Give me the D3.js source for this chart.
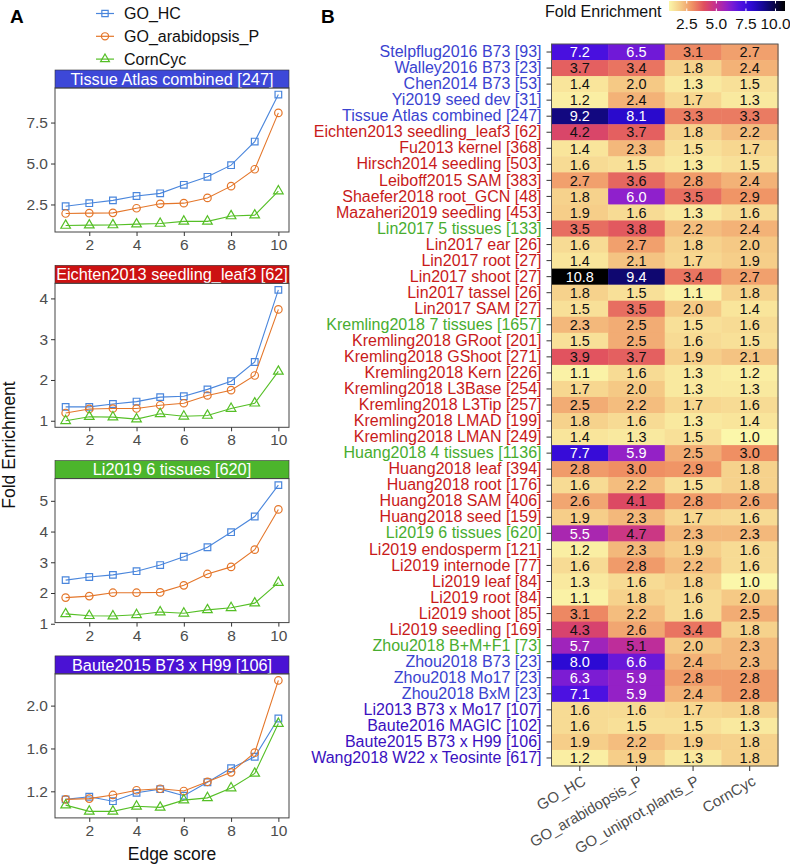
<!DOCTYPE html>
<html><head><meta charset="utf-8">
<script src="https://cdn.jsdelivr.net/npm/d3@7"></script>
<style>
body{margin:0;background:#fff;}
text{font-family:"Liberation Sans",Arial,sans-serif;}
</style></head><body>
<svg id="chart" width="790" height="866"></svg>
<script>
// ---------------- DATA ----------------
const edgeScores = [1,2,3,4,5,6,7,8,9,10];
const lineSeries = ["GO_HC","GO_arabidopsis_P","CornCyc"];
const facetTitles = ["Tissue Atlas combined [247]","Eichten2013 seedling_leaf3 [62]","Li2019 6 tissues [620]","Baute2015 B73 x H99 [106]"];
const facetGroups = ["blue","red","green","indigo"];
const facetTicks = [[2.5,5.0,7.5],[1,2,3,4],[1,2,3,4,5],[1.2,1.6,2.0]];
const tickFormats = [".1f","d","d",".1f"];
// values per facet: [GO_HC, GO_arabidopsis_P, CornCyc]
const tissueAtlas = [
  [2.39,2.58,2.75,3.02,3.18,3.70,4.19,4.90,6.34,9.21],
  [1.95,1.97,1.99,2.27,2.54,2.58,2.90,3.62,4.65,8.09],
  [1.22,1.24,1.25,1.30,1.34,1.47,1.47,1.80,1.85,3.32]];
const eichten = [
  [1.34,1.34,1.41,1.47,1.58,1.60,1.77,1.97,2.44,4.21],
  [1.19,1.29,1.30,1.30,1.38,1.43,1.62,1.75,2.11,3.73],
  [1.00,1.10,1.09,1.04,1.17,1.11,1.13,1.30,1.43,2.21]];
const li2019 = [
  [2.42,2.52,2.59,2.71,2.91,3.18,3.49,3.98,4.49,5.51],
  [1.85,1.90,2.01,2.01,2.02,2.25,2.62,2.85,3.41,4.72],
  [1.32,1.26,1.25,1.29,1.38,1.34,1.45,1.52,1.67,2.34]];
const baute2015 = [
  [1.125,1.149,1.108,1.186,1.220,1.159,1.285,1.415,1.523,1.880],
  [1.125,1.132,1.166,1.210,1.224,1.203,1.289,1.377,1.561,2.235],
  [1.071,1.013,1.013,1.060,1.050,1.118,1.139,1.231,1.367,1.833]];
const facetData = [tissueAtlas, eichten, li2019, baute2015];

const heatColumns = ["GO_HC","GO_arabidopsis_P","GO_uniprot.plants_P","CornCyc"];
const heatRows = [
 "Stelpflug2016 B73 [93]","Walley2016 B73 [23]","Chen2014 B73 [53]","Yi2019 seed dev [31]","Tissue Atlas combined [247]",
 "Eichten2013 seedling_leaf3 [62]","Fu2013 kernel [368]","Hirsch2014 seedling [503]","Leiboff2015 SAM [383]","Shaefer2018 root_GCN [48]","Mazaheri2019 seedling [453]",
 "Lin2017 5 tissues [133]","Lin2017 ear [26]","Lin2017 root [27]","Lin2017 shoot [27]","Lin2017 tassel [26]","Lin2017 SAM [27]",
 "Kremling2018 7 tissues [1657]","Kremling2018 GRoot [201]","Kremling2018 GShoot [271]","Kremling2018 Kern [226]","Kremling2018 L3Base [254]","Kremling2018 L3Tip [257]","Kremling2018 LMAD [199]","Kremling2018 LMAN [249]",
 "Huang2018 4 tissues [1136]","Huang2018 leaf [394]","Huang2018 root [176]","Huang2018 SAM [406]","Huang2018 seed [159]",
 "Li2019 6 tissues [620]","Li2019 endosperm [121]","Li2019 internode [77]","Li2019 leaf [84]","Li2019 root [84]","Li2019 shoot [85]","Li2019 seedling [169]",
 "Zhou2018 B+M+F1 [73]","Zhou2018 B73 [23]","Zhou2018 Mo17 [23]","Zhou2018 BxM [23]",
 "Li2013 B73 x Mo17 [107]","Baute2016 MAGIC [102]","Baute2015 B73 x H99 [106]","Wang2018 W22 x Teosinte [617]"];
const rowGroups = [
 "blue","blue","blue","blue","blue",
 "red","red","red","red","red","red",
 "green","red","red","red","red","red",
 "green","red","red","red","red","red","red","red",
 "green","red","red","red","red",
 "green","red","red","red","red","red","red",
 "green","blue","blue","blue",
 "indigo","indigo","indigo","indigo"];
const heatValues = [
 [7.2,6.5,3.1,2.7],[3.7,3.4,1.8,2.4],[1.4,2.0,1.3,1.5],[1.2,2.4,1.7,1.3],[9.2,8.1,3.3,3.3],
 [4.2,3.7,1.8,2.2],[1.4,2.3,1.5,1.7],[1.6,1.5,1.3,1.5],[2.7,3.6,2.8,2.4],[1.8,6.0,3.5,2.9],[1.9,1.6,1.3,1.6],
 [3.5,3.8,2.2,2.4],[1.6,2.7,1.8,2.0],[1.4,2.1,1.7,1.9],[10.8,9.4,3.4,2.7],[1.8,1.5,1.1,1.8],[1.5,3.5,2.0,1.4],
 [2.3,2.5,1.5,1.6],[1.5,2.5,1.6,1.5],[3.9,3.7,1.9,2.1],[1.1,1.6,1.3,1.2],[1.7,2.0,1.3,1.3],[2.5,2.2,1.7,1.6],[1.8,1.6,1.3,1.4],[1.4,1.3,1.5,1.0],
 [7.7,5.9,2.5,3.0],[2.8,3.0,2.9,1.8],[1.6,2.2,1.5,1.8],[2.6,4.1,2.8,2.6],[1.9,2.3,1.7,1.6],
 [5.5,4.7,2.3,2.3],[1.2,2.3,1.9,1.6],[1.6,2.8,2.2,1.6],[1.3,1.6,1.8,1.0],[1.1,1.8,1.6,2.0],[3.1,2.2,1.6,2.5],[4.3,2.6,3.4,1.8],
 [5.7,5.1,2.0,2.3],[8.0,6.6,2.4,2.3],[6.3,5.9,2.8,2.8],[7.1,5.9,2.4,2.8],
 [1.6,1.6,1.7,1.8],[1.6,1.5,1.5,1.3],[1.9,2.2,1.9,1.8],[1.2,1.9,1.3,1.8]];
const legendTicks = [2.5,5.0,7.5,10.0];

// ---------------- STYLE ----------------
const groupColor = {blue:"#3a43d0", red:"#c81a1a", green:"#48ad2f", indigo:"#3a10c0"};
const stripColor = {blue:"#3d48d8", red:"#cc1111", green:"#4cb52c", indigo:"#4a12d4"};
const seriesColor = {"GO_HC":"#4a86dc","GO_arabidopsis_P":"#e4762a","CornCyc":"#55bf26"};
const seriesShape = {"GO_HC":d3.symbolSquare,"GO_arabidopsis_P":d3.symbolCircle,"CornCyc":d3.symbolTriangle};
const fillStops = [1.0,2.0,3.0,4.0,5.0,6.0,7.0,8.0,9.0,10.0,10.8];
const fillColors = ["#fbf7aa","#f5c985","#ef8f63","#df4c5e","#c32e94","#8f20cc","#5012e2","#2c0ad4","#140890","#080640","#000000"];
const FONT = "Liberation Sans, Arial, sans-serif";

const svg = d3.select("#chart");
const fill = d3.scaleLinear().domain(fillStops).range(fillColors).interpolate(d3.interpolateRgb).clamp(true);

// ---------------- PANEL A ----------------
svg.append("text").attr("x",10).attr("y",23).attr("font-size",19).attr("font-weight","bold").text("A");

// legend
const legG = svg.append("g");
lineSeries.forEach((s,i)=>{
  const y = 13.5 + i*22.8;
  legG.append("line").attr("x1",96).attr("x2",114).attr("y1",y).attr("y2",y)
    .attr("stroke",seriesColor[s]).attr("stroke-width",1.2);
  legG.append("path").attr("transform",`translate(105,${y})`)
    .attr("d",d3.symbol().type(seriesShape[s]).size(s==="CornCyc"?34:40)())
    .attr("fill","none").attr("stroke",seriesColor[s]).attr("stroke-width",1.2);
  legG.append("text").attr("x",124).attr("y",y).attr("dy","0.36em").attr("font-size",16).attr("fill","#111").text(s);
});

const pLeft = 55, pRight = 289, stripH = 18, panelH = 144, facetStep = 195.3, firstBottom = 232;
const x = d3.scaleLinear().domain([0.55,10.45]).range([pLeft,pRight]);

facetData.forEach((fd,i)=>{
  const bottom = firstBottom + i*facetStep;
  const top = bottom - panelH;
  const all = fd.flat();
  const [mn,mx] = d3.extent(all);
  const pad = (mx-mn)*0.05;
  const y = d3.scaleLinear().domain([mn-pad,mx+pad]).range([bottom,top]);
  const g = svg.append("g");
  // strip
  g.append("rect").attr("x",pLeft).attr("y",top-stripH).attr("width",pRight-pLeft).attr("height",stripH)
    .attr("fill",stripColor[facetGroups[i]]).attr("stroke","#333").attr("stroke-width",0.6);
  g.append("text").attr("x",(pLeft+pRight)/2).attr("y",top-stripH/2).attr("dy","0.36em")
    .attr("text-anchor","middle").attr("font-size",16.3).attr("fill","#fff").text(facetTitles[i]);
  // lines
  fd.forEach((vals,k)=>{
    const s = lineSeries[k];
    const pts = edgeScores.map((e,j)=>[e,vals[j]]);
    g.append("path").attr("d",d3.line().x(d=>x(d[0])).y(d=>y(d[1]))(pts))
      .attr("fill","none").attr("stroke",seriesColor[s]).attr("stroke-width",1.1);
    g.selectAll(null).data(pts).enter().append("path")
      .attr("transform",d=>`translate(${x(d[0])},${y(d[1])})`)
      .attr("d",d3.symbol().type(seriesShape[s]).size(s==="CornCyc"?40:44)())
      .attr("fill","none").attr("stroke",seriesColor[s]).attr("stroke-width",1.2);
  });
  // border
  g.append("rect").attr("x",pLeft).attr("y",top).attr("width",pRight-pLeft).attr("height",panelH)
    .attr("fill","none").attr("stroke","#444").attr("stroke-width",1);
  // axes
  const ya = g.append("g").attr("transform",`translate(${pLeft},0)`)
    .call(d3.axisLeft(y).tickValues(facetTicks[i]).tickFormat(d3.format(tickFormats[i])).tickSize(4).tickPadding(3));
  const xa = g.append("g").attr("transform",`translate(0,${bottom})`)
    .call(d3.axisBottom(x).tickValues([2,4,6,8,10]).tickSize(4).tickPadding(3));
  [ya,xa].forEach(a=>{
    a.select(".domain").remove();
    a.selectAll(".tick line").attr("stroke","#333");
    a.selectAll(".tick text").attr("fill","#4d4d4d").attr("font-size",15.5).style("font-family",FONT);
  });
});
svg.append("text").attr("transform","translate(15,445) rotate(-90)").attr("text-anchor","middle")
  .attr("font-size",17.5).attr("fill","#111").text("Fold Enrichment");
svg.append("text").attr("x",172).attr("y",860).attr("text-anchor","middle")
  .attr("font-size",17.5).attr("fill","#111").text("Edge score");

// ---------------- PANEL B ----------------
svg.append("text").attr("x",321).attr("y",23).attr("font-size",19).attr("font-weight","bold").text("B");

const hx = d3.scaleBand().domain(heatColumns).range([551.5,778]);
const hy = d3.scaleBand().domain(heatRows).range([44,766]);
const hg = svg.append("g");
heatRows.forEach((r,i)=>{
  heatColumns.forEach((c,j)=>{
    const v = heatValues[i][j];
    hg.append("rect").attr("x",hx(c)).attr("y",hy(r)).attr("width",hx.bandwidth()+0.5).attr("height",hy.bandwidth()+0.5)
      .attr("fill",fill(v));
    hg.append("text").attr("x",hx(c)+hx.bandwidth()/2).attr("y",hy(r)+hy.bandwidth()/2).attr("dy","0.36em")
      .attr("text-anchor","middle").attr("font-size",14.5).attr("fill",v>5.2?"#fff":"#111").text(d3.format(".1f")(v));
  });
});
hg.append("rect").attr("x",551.5).attr("y",44).attr("width",778-551.5).attr("height",766-44)
  .attr("fill","none").attr("stroke","#555").attr("stroke-width",1);

const yAx = svg.append("g").attr("transform","translate(551.5,0)").call(d3.axisLeft(hy).tickSize(5).tickPadding(5));
yAx.select(".domain").remove();
yAx.selectAll(".tick line").attr("stroke","#333");
yAx.selectAll(".tick text").attr("font-size",16).style("font-family",FONT)
  .attr("fill",(d,i)=>groupColor[rowGroups[i]]);

const xAx = svg.append("g").attr("transform","translate(0,766)").call(d3.axisBottom(hx).tickSize(5).tickPadding(3));
xAx.select(".domain").remove();
xAx.selectAll(".tick line").attr("stroke","#333");
xAx.selectAll(".tick text").attr("font-size",15).style("font-family",FONT)
  .attr("fill","#4d4d4d").attr("text-anchor","end").attr("y",0).attr("dy",0)
  .attr("transform","translate(7,18) rotate(-30)");

// legend colorbar
const lgX0 = 669, lgX1 = 785, lgY = 1, lgH = 10;
svg.append("text").attr("x",545).attr("y",11).attr("dy","0.36em").attr("font-size",16).attr("fill","#111").text("Fold Enrichment");
const fdom = d3.extent(heatValues.flat());
const lx = d3.scaleLinear().domain(fdom).range([lgX0,lgX1]);
const defs = svg.append("defs");
const grad = defs.append("linearGradient").attr("id","fgrad");
d3.range(0,1.0001,0.05).forEach(t=>{
  const v = fdom[0]+t*(fdom[1]-fdom[0]);
  grad.append("stop").attr("offset",t).attr("stop-color",fill(v));
});
svg.append("rect").attr("x",lgX0).attr("y",lgY).attr("width",lgX1-lgX0).attr("height",lgH).attr("fill","url(#fgrad)");
legendTicks.forEach(t=>{
  svg.append("line").attr("x1",lx(t)).attr("x2",lx(t)).attr("y1",lgY).attr("y2",lgY+2.5).attr("stroke","#fff");
  svg.append("line").attr("x1",lx(t)).attr("x2",lx(t)).attr("y1",lgY+lgH-2.5).attr("y2",lgY+lgH).attr("stroke","#fff");
  svg.append("text").attr("x",lx(t)).attr("y",29).attr("text-anchor","middle").attr("font-size",15.5).attr("fill","#111")
    .text(d3.format(".1f")(t));
});
</script></body></html>
